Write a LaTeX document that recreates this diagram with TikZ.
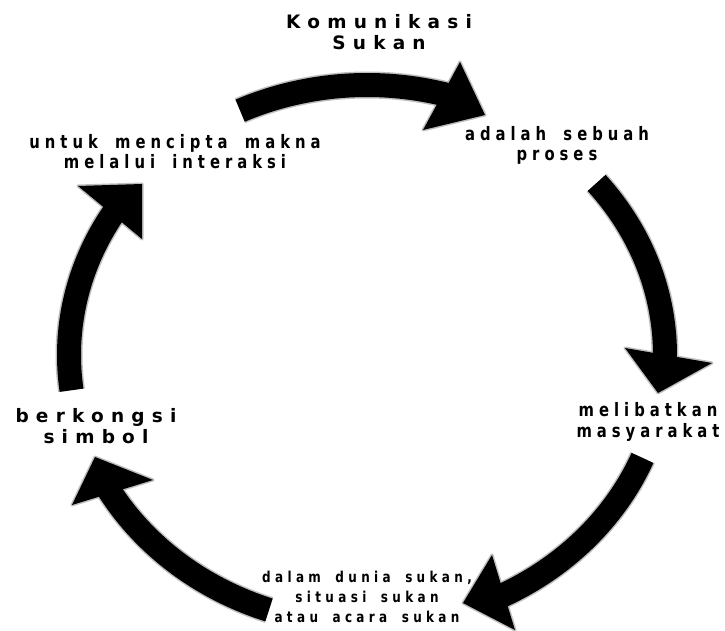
\documentclass[tikz,border=0pt]{standalone}
\usepackage{fontspec}
\newfontfamily\bigfont{DejaVu Sans}[UprightFont=* Bold, LetterSpace=39, WordSpace=1.5]
\newfontfamily\midfont{DejaVu Sans}[UprightFont=* Bold, LetterSpace=27, WordSpace=1.7, FakeStretch=0.8]
\newfontfamily\smallfont{DejaVu Sans}[UprightFont=* Bold, LetterSpace=29, WordSpace=1.7, FakeStretch=0.8]
\tikzset{
  shaftline/.style={line width=24pt, black, line cap=butt},
  shaftglow/.style={line width=27pt, black!25, line cap=butt},
  headshape/.style={fill=black},
  headglow/.style={draw=black!25, line width=3pt, line join=round},
  biglabel/.style={align=center, anchor=base, inner sep=0pt, font=\bigfont\fontsize{18.5}{21}\selectfont},
  midlabel/.style={align=center, anchor=base, inner sep=0pt, font=\midfont\fontsize{18.5}{20.5}\selectfont},
  smalllabel/.style={align=center, anchor=base, inner sep=0pt, font=\smallfont\fontsize{15}{20}\selectfont}
}
\begin{document}
\begin{tikzpicture}[x=1pt,y=1pt]
\fill[white] (0,0) rectangle (725,630);
\useasboundingbox (0,0) rectangle (725,630);
\coordinate (c) at (367,275);

% top arrow
\draw[shaftglow] (c) ++(115.2:298pt and 270pt) arc[start angle=115.2, end angle=72, x radius=298pt, y radius=270pt];
\draw[headglow] (460,568) -- (485,515) -- (423,500) -- cycle;
\draw[shaftline] (c) ++(115.2:298pt and 270pt) arc[start angle=115.2, end angle=72, x radius=298pt, y radius=270pt];
\fill[headshape] (460,568) -- (485,515) -- (423,500) -- cycle;

% right arrow
\draw[shaftglow] (c) ++(39.6:298pt and 270pt) arc[start angle=39.6, end angle=-3.5, x radius=298pt, y radius=270pt];
\draw[headglow] (625,282) -- (658,237) -- (712,267) -- cycle;
\draw[shaftline] (c) ++(39.6:298pt and 270pt) arc[start angle=39.6, end angle=-3.5, x radius=298pt, y radius=270pt];
\fill[headshape] (625,282) -- (658,237) -- (712,267) -- cycle;

% bottom-right arrow
\draw[shaftglow] (c) ++(-22.4:298pt and 270pt) arc[start angle=-22.4, end angle=-65.5, x radius=298pt, y radius=270pt];
\draw[headglow] (492,75) -- (463,27) -- (515,0) -- cycle;
\draw[shaftline] (c) ++(-22.4:298pt and 270pt) arc[start angle=-22.4, end angle=-65.5, x radius=298pt, y radius=270pt];
\fill[headshape] (492,75) -- (463,27) -- (515,0) -- cycle;

% bottom-left arrow
\draw[shaftglow] (c) ++(-109.2:298pt and 270pt) arc[start angle=-109.2, end angle=-152.5, x radius=298pt, y radius=270pt];
\draw[headglow] (72,125) -- (95,173) -- (153,150) -- cycle;
\draw[shaftline] (c) ++(-109.2:298pt and 270pt) arc[start angle=-109.2, end angle=-152.5, x radius=298pt, y radius=270pt];
\fill[headshape] (72,125) -- (95,173) -- (153,150) -- cycle;

% left arrow
\draw[shaftglow] (c) ++(187.5:298pt and 270pt) arc[start angle=187.5, end angle=145, x radius=298pt, y radius=270pt];
\draw[headglow] (78,444) -- (142,446) -- (142,391) -- cycle;
\draw[shaftline] (c) ++(187.5:298pt and 270pt) arc[start angle=187.5, end angle=145, x radius=298pt, y radius=270pt];
\fill[headshape] (78,444) -- (142,446) -- (142,391) -- cycle;

% labels (anchor = baseline of the last line)
\node[biglabel] (kom) at (379,580) {Komunikasi\\Sukan};
\node[midlabel] (proses) at (557,469) {adalah sebuah\\proses};
\node[midlabel] (masy) at (648,193) {melibatkan\\masyarakat};
\node[smalllabel] (dunia) at (367,8) {dalam dunia sukan,\\situasi sukan\\atau acara sukan};
\node[biglabel] (simbol) at (96,187) {berkongsi\\simbol};
\node[midlabel] (makna) at (175,461) {untuk mencipta makna\\melalui interaksi};
\end{tikzpicture}
\end{document}
